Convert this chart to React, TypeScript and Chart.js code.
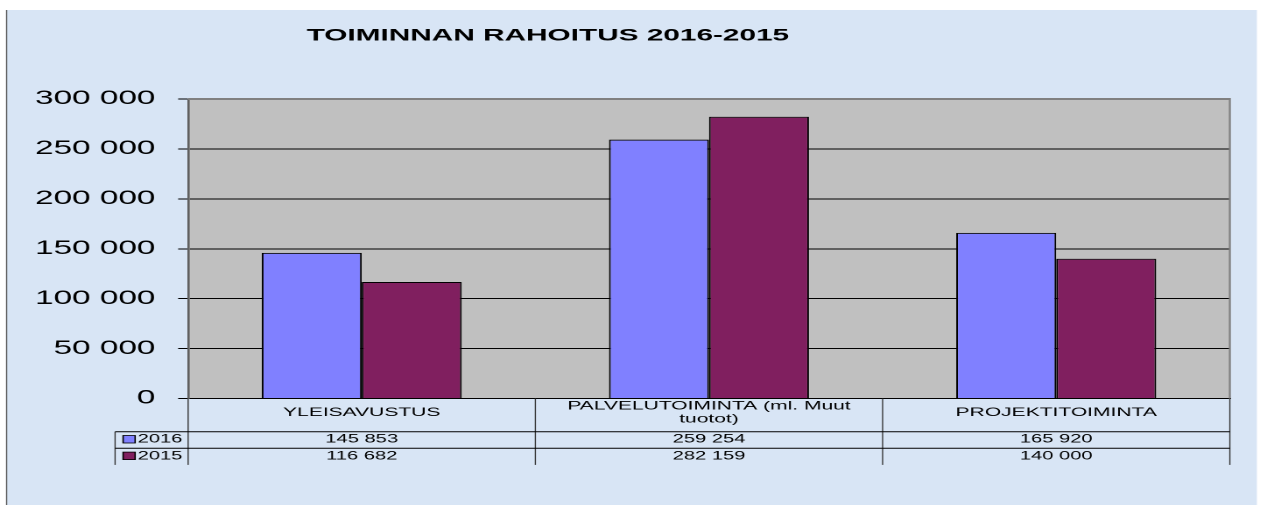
import React, { useEffect, useRef } from 'react';
import { Chart, registerables } from 'chart.js';

Chart.register(...registerables);

// ---- data ----
const chartTitle = 'TOIMINNAN RAHOITUS 2016-2015';
const categories: (string | string[])[] = [
  'YLEISAVUSTUS',
  ['PALVELUTOIMINTA (ml. Muut', 'tuotot)'],
  'PROJEKTITOIMINTA',
];
const seriesNames = ['2016', '2015'];
const values2016 = [145853, 259254, 165920];
const values2015 = [116682, 282159, 140000];
const yMin = 0;
const yMax = 300000;
const yStep = 50000;

// ---- styles / layout ----
const S = 1.75; // horizontal stretch of the original picture
const W = 1263 / S;
const H = 505;
const FONT = '"Liberation Sans", Arial, Helvetica, sans-serif';
const BG = '#D8E5F5';
const PLOT_BG = '#C0C0C0';
const COLORS = ['#8080FF', '#801F5F'];
const LABEL_ROW = 33.2;
const ROW = 16.6;

const fmt = (v: number) =>
  String(Math.round(v)).replace(/\B(?=(\d{3})+(?!\d))/g, ' ');

const decor = {
  id: 'decor',
  beforeDraw(chart: any) {
    const { ctx, chartArea: a } = chart;
    ctx.save();
    ctx.fillStyle = '#ffffff';
    ctx.fillRect(0, 0, chart.width, chart.height);
    ctx.fillStyle = BG;
    ctx.fillRect(6 / S, 10, (1256 - 6) / S, H - 10);
    ctx.fillStyle = '#555555';
    ctx.fillRect(6 / S, 10, 1.2 / S, H - 10);
    ctx.fillStyle = PLOT_BG;
    ctx.fillRect(a.left, a.top, a.right - a.left, a.bottom - a.top);
    ctx.fillStyle = '#000';
    ctx.font = `bold 17px ${FONT}`;
    ctx.textAlign = 'center';
    ctx.textBaseline = 'middle';
    ctx.fillText(chartTitle, 547.5 / S, 36);
    ctx.restore();
  },
  afterDraw(chart: any) {
    const { ctx, chartArea: a } = chart;
    const xs = chart.scales.x;
    ctx.save();
    // plot top / right border
    ctx.strokeStyle = '#808080';
    ctx.lineWidth = 2;
    ctx.beginPath();
    ctx.moveTo(a.left, a.top);
    ctx.lineTo(a.right, a.top);
    ctx.stroke();
    ctx.fillStyle = '#808080';
    ctx.fillRect(a.right - 1 / S, a.top - 1, 2 / S, a.bottom - a.top + 1);

    // data table
    const n = categories.length;
    const cw = n > 1 ? xs.getPixelForValue(1) - xs.getPixelForValue(0) : a.right - a.left;
    const top = a.bottom;
    const r1 = top + LABEL_ROW;
    const r2 = r1 + ROW;
    const r3 = r2 + ROW;
    const legendLeft = 115 / S;

    ctx.fillStyle = '#333333';
    for (let i = 0; i <= n; i++) {
      const xx = i < n ? xs.getPixelForValue(i) - cw / 2 : xs.getPixelForValue(n - 1) + cw / 2;
      ctx.fillRect(xx - 0.6 / S, top, 1.2 / S, r3 - top);
    }
    ctx.fillRect(legendLeft - 0.6 / S, r1, 1.2 / S, r3 - r1);

    ctx.strokeStyle = '#000';
    ctx.lineWidth = 1;
    [r1, r2].forEach((yy) => {
      ctx.beginPath();
      ctx.moveTo(legendLeft, yy);
      ctx.lineTo(a.right, yy);
      ctx.stroke();
    });

    const series = [values2016, values2015];
    const rowsY = [r1, r2];
    ctx.textBaseline = 'middle';
    series.forEach((vals, si) => {
      const ry = rowsY[si];
      // legend key
      ctx.fillStyle = COLORS[si];
      ctx.fillRect(123 / S, ry + 3.8, 12 / S, 7.5);
      ctx.strokeStyle = '#000';
      ctx.lineWidth = 0.8;
      ctx.strokeRect(123 / S, ry + 3.8, 12 / S, 7.5);
      ctx.fillStyle = '#000';
      ctx.font = `11.5px ${FONT}`;
      ctx.textAlign = 'left';
      ctx.fillText(seriesNames[si], 137.5 / S, ry + ROW / 2 - 0.5);
      ctx.textAlign = 'center';
      vals.forEach((v, i) => {
        ctx.fillText(fmt(v), xs.getPixelForValue(i), ry + ROW / 2 - 0.5);
      });
    });
    ctx.restore();
  },
};

export default function App() {
  const ref = useRef<HTMLCanvasElement | null>(null);
  useEffect(() => {
    if (!ref.current) return;
    const chart = new Chart(ref.current, {
      type: 'bar',
      data: {
        labels: categories as any,
        datasets: [
          {
            label: seriesNames[0],
            data: values2016,
            backgroundColor: COLORS[0],
            borderColor: '#000',
            borderWidth: 1,
          },
          {
            label: seriesNames[1],
            data: values2015,
            backgroundColor: COLORS[1],
            borderColor: '#000',
            borderWidth: 1,
          },
        ],
      },
      options: {
        animation: false,
        responsive: true,
        maintainAspectRatio: false,
        devicePixelRatio: 2,
        events: [],
        layout: {
          padding: { top: 99, left: 0, right: W - 1229 / S, bottom: 0 },
        },
        datasets: {
          bar: { barPercentage: 1, categoryPercentage: 0.576 },
        },
        plugins: {
          legend: { display: false },
          title: { display: false },
          tooltip: { enabled: false },
        },
        scales: {
          x: {
            afterFit: (s: any) => {
              s.height = H - 398.5;
            },
            grid: { display: false, drawTicks: false },
            border: { display: true, color: '#000', width: 1 },
            ticks: {
              autoSkip: false,
              maxRotation: 0,
              minRotation: 0,
              padding: 7.5,
              crossAlign: 'center',
              color: '#000',
              font: { family: FONT, size: 12, lineHeight: 13 / 12 },
            },
          },
          y: {
            min: yMin,
            max: yMax,
            afterFit: (s: any) => {
              s.width = 188 / S;
            },
            grid: {
              color: (c: any) => (c.tick && c.tick.value === yMax ? '#808080' : '#000'),
              lineWidth: (c: any) => (c.tick && c.tick.value === yMax ? 2 : 1),
              drawTicks: true,
              tickLength: 10 / S,
              tickColor: '#000',
              tickWidth: 1,
            },
            border: { display: true, color: '#606060', width: 1.3 },
            ticks: {
              stepSize: yStep,
              padding: 13,
              color: '#000',
              font: { family: FONT, size: 19 },
              callback: (v: any) => fmt(Number(v)),
            },
          },
        },
      },
      plugins: [decor],
    });
    return () => chart.destroy();
  }, []);

  return (
    <div
      style={{
        position: 'absolute',
        left: 0,
        top: 0,
        width: `${W}px`,
        height: `${H}px`,
        transform: `scaleX(${S})`,
        transformOrigin: '0 0',
      }}
    >
      <canvas ref={ref} />
    </div>
  );
}
